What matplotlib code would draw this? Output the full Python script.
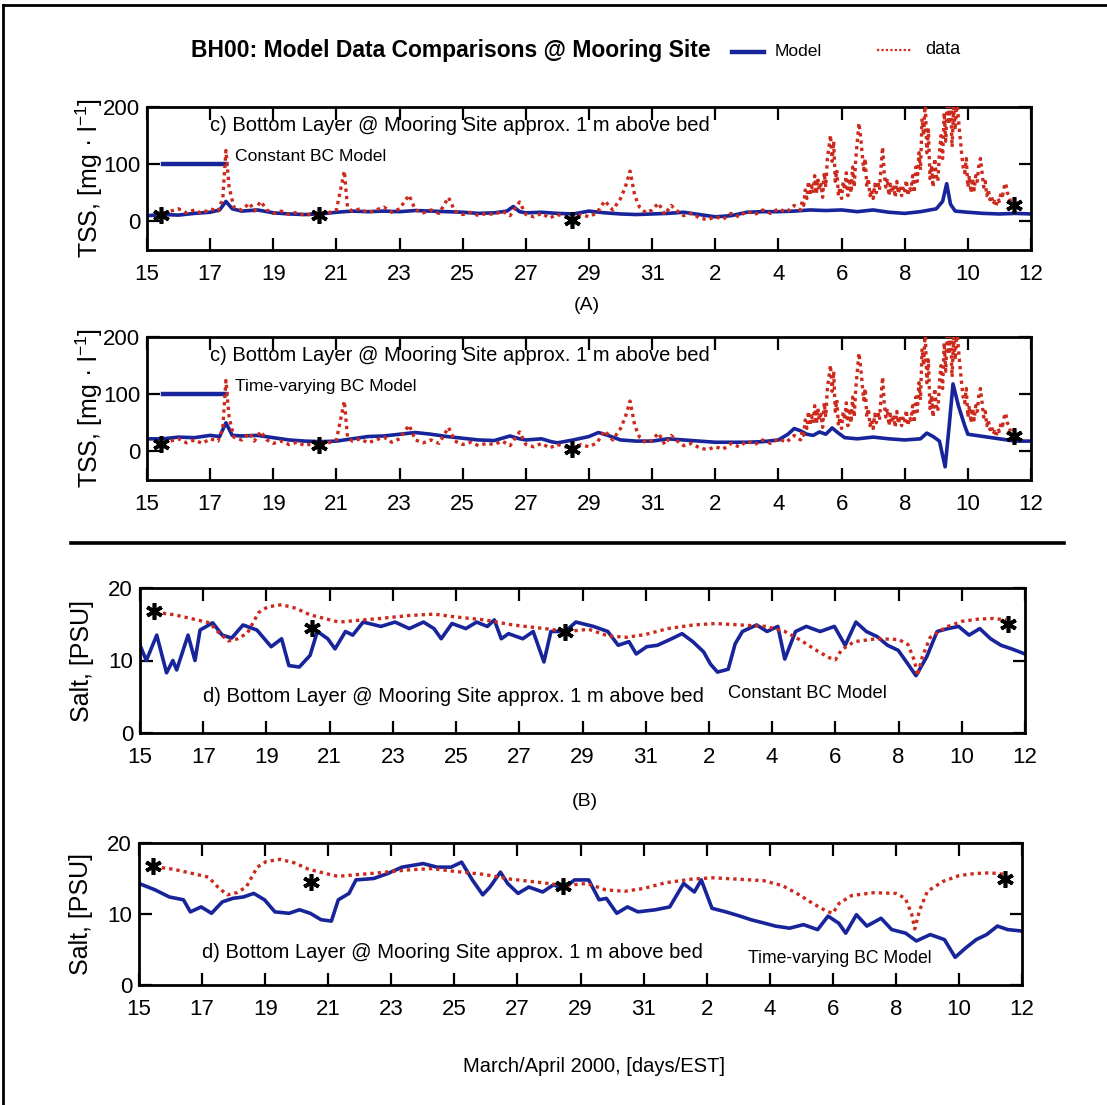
"""Bottom-layer TSS and salinity, model vs. mooring data at BH00."""

import numpy as np
import matplotlib
matplotlib.use("Agg")
import matplotlib.pyplot as plt
from matplotlib.lines import Line2D

# ---------------------------------------------------------------- data
# time is day of March; April days continue as 31 + day
tick_days = [15, 17, 19, 21, 23, 25, 27, 29, 31, 33, 35, 37, 39, 41, 43]
tick_labels = ["15", "17", "19", "21", "23", "25", "27", "29", "31",
               "2", "4", "6", "8", "10", "12"]

# observed TSS (mg/l), same record in both TSS panels
# March to early April, read at irregular times
tss_obs_day_a = [15.3, 15.5, 15.75, 16.0, 16.25, 16.5, 16.75, 17.0, 17.25, 17.4,
                 17.5, 17.6, 17.75, 18.0, 18.25, 18.4, 18.6, 18.8, 19.0, 19.25,
                 19.5, 19.75, 20.0, 20.25, 20.5, 20.75, 21.0, 21.25, 21.35, 21.5,
                 21.75, 22.0, 22.25, 22.5, 22.75, 23.0, 23.3, 23.5, 23.75, 24.0,
                 24.25, 24.55, 24.75, 25.0, 25.25, 25.5, 25.75, 26.0, 26.25, 26.5,
                 26.8, 27.0, 27.25, 27.5, 27.75, 28.0, 28.25, 28.5, 28.75, 29.0,
                 29.25, 29.5, 29.75, 30.0, 30.15, 30.3, 30.45, 30.6, 30.8, 31.0,
                 31.2, 31.4, 31.6, 31.8, 32.0, 32.25, 32.5, 32.75, 33.0, 33.25,
                 33.5, 33.75, 34.0, 34.25, 34.5, 34.75, 35.0, 35.25, 35.5]
tss_obs_a = [12, 14, 18, 22, 15, 20, 14, 22, 18, 40,
             124, 60, 25, 20, 32, 18, 35, 20, 14, 18,
             12, 16, 10, 14, 10, 15, 20, 88, 25, 18,
             22, 15, 20, 25, 16, 22, 46, 20, 15, 20,
             14, 42, 18, 12, 16, 10, 14, 12, 18, 10,
             34, 12, 8, 14, 6, 12, 8, 5, 12, 8,
             15, 36, 20, 40, 60, 88, 45, 25, 15, 20,
             32, 12, 28, 18, 10, 14, 6, 3, 8, 4,
             14, 8, 18, 12, 20, 14, 22, 16, 28]
# April 4.7 onward, sampled every 0.05 day
tss_obs_day_b = np.round(np.arange(35.70, 42.46, 0.05), 2)
tss_obs_b = [20, 35, 28, 55, 40, 70, 45, 62, 50, 80,
             48, 75, 55, 65, 42, 85, 60, 110, 130, 151,
             105, 140, 70, 90, 45, 60, 40, 70, 55, 85,
             45, 75, 50, 95, 60, 110, 140, 172, 150, 120,
             90, 110, 60, 75, 45, 55, 40, 65, 50, 70,
             55, 95, 130, 85, 60, 75, 45, 65, 50, 60,
             42, 70, 48, 62, 45, 58, 50, 72, 45, 60,
             55, 80, 50, 95, 70, 120, 90, 180, 150, 215,
             120, 160, 75, 98, 60, 110, 80, 70, 120, 150,
             110, 190, 140, 215, 170, 215, 130, 200, 160, 215,
             180, 150, 120, 95, 85, 110, 60, 80, 50, 75,
             55, 80, 70, 100, 110, 85, 60, 70, 45, 55,
             38, 45, 30, 35, 28, 40, 35, 50, 45, 60,
             67, 50, 45, 35, 30, 28]
tss_obs_day = list(tss_obs_day_a) + list(tss_obs_day_b)
tss_obs = tss_obs_a + tss_obs_b

# constant-BC model TSS
tss_const_day = [15.0, 15.5, 16.0, 16.5, 17.0, 17.3, 17.5, 17.7, 18.0, 18.5,
                 19.0, 19.5, 20.0, 20.5, 21.0, 21.5, 22.0, 22.5, 23.0, 23.5,
                 24.0, 24.5, 25.0, 25.5, 26.0, 26.4, 26.6, 26.8, 27.0, 27.5,
                 28.0, 28.5, 29.0, 29.5, 30.0, 30.5, 31.0, 31.5, 32.0, 32.5,
                 33.0, 33.5, 34.0, 34.5, 35.0, 35.5, 36.0, 36.5, 37.0, 37.5,
                 38.0, 38.5, 39.0, 39.5, 40.0, 40.2, 40.33, 40.45, 40.6, 41.0,
                 41.5, 42.0, 42.5, 43.0]
tss_const = [10, 12, 11, 14, 16, 20, 35, 22, 18, 20,
             15, 13, 12, 13, 16, 18, 17, 18, 17, 19,
             18, 17, 16, 14, 15, 18, 26, 17, 15, 16,
             14, 13, 18, 15, 13, 12, 13, 14, 16, 12,
             8, 10, 16, 17, 17, 18, 20, 19, 20, 17,
             20, 16, 14, 17, 22, 35, 66, 30, 18, 16,
             14, 13, 14, 13]

# time-varying-BC model TSS
tss_tvar_day = [15.0, 15.5, 16.0, 16.5, 17.0, 17.3, 17.5, 17.7, 18.0, 18.5,
                19.0, 19.5, 20.0, 20.5, 21.0, 21.5, 22.0, 22.5, 23.0, 23.5,
                24.0, 24.5, 25.0, 25.5, 26.0, 26.5, 26.8, 27.0, 27.5, 27.8,
                28.0, 28.5, 29.0, 29.3, 29.6, 30.0, 30.5, 31.0, 31.5, 32.0,
                32.5, 33.0, 33.5, 34.0, 34.5, 35.0, 35.3, 35.5, 35.7, 35.9,
                36.1, 36.3, 36.5, 36.7, 36.9, 37.1, 37.5, 38.0, 38.5, 39.0,
                39.5, 39.7, 39.9, 40.1, 40.28, 40.4, 40.53, 40.7, 40.9, 41.0,
                41.5, 42.0, 42.5, 43.0]
tss_tvar = [22, 22, 25, 24, 28, 26, 50, 28, 27, 28,
            24, 20, 18, 17, 18, 22, 26, 27, 30, 33,
            30, 26, 23, 20, 19, 27, 22, 20, 22, 17,
            15, 20, 26, 33, 28, 20, 18, 18, 22, 20,
            18, 16, 16, 16, 17, 20, 30, 40, 36, 30,
            28, 34, 30, 41, 32, 24, 22, 25, 22, 20,
            22, 32, 26, 18, -27, 40, 118, 80, 45, 30,
            26, 22, 18, 18]

# discrete samples (asterisks)
cast_day = [15.45, 20.45, 28.45, 42.45]
tss_cast_const = [12, 12, 3, 29]
tss_cast_tvar = [13, 12, 4, 27]
salt_cast = [16.8, 14.5, 14.0, 15.0]

# observed salinity (PSU), same record in both salt panels
salt_obs_day = [15.5, 15.76, 16.1, 16.5, 16.8, 17.2, 17.5, 17.8, 18.1, 18.4,
                18.75, 19.04, 19.48, 19.93, 20.38, 20.83, 21.3, 21.8, 22.6, 23.5,
                24.3, 25.0, 25.9, 26.8, 27.8, 28.5, 29.2, 29.8, 30.4, 31.0,
                31.7, 32.5, 33.2, 34.0, 34.8, 35.4, 35.9, 36.4, 36.8, 37.0,
                37.2, 37.6, 38.3, 39.0, 39.3, 39.5, 39.6, 39.75, 40.0, 40.5,
                41.0, 41.5, 42.0, 42.4]
salt_obs = [16.8, 16.5, 16.3, 15.9, 15.6, 15.2, 13.8, 12.7, 13.0, 13.8,
            16.6, 17.4, 17.7, 17.2, 16.3, 15.8, 15.3, 15.5, 15.8, 16.2,
            16.4, 16.0, 15.6, 14.9, 14.4, 14.0, 14.3, 13.4, 13.2, 13.6,
            14.4, 14.9, 15.1, 14.9, 14.7, 14.0, 12.8, 11.4, 10.4, 10.1,
            11.5, 12.6, 13.0, 12.9, 12.2, 10.0, 7.9, 10.5, 13.2, 14.6,
            15.4, 15.7, 15.8, 15.6]

# constant-BC model salinity
salt_const_day = [15.0, 15.2, 15.53, 15.84, 16.04, 16.16, 16.52, 16.74, 16.9, 17.3,
                  17.6, 17.9, 18.26, 18.7, 19.15, 19.48, 19.71, 20.04, 20.38, 20.61,
                  20.94, 21.17, 21.5, 21.73, 22.06, 22.62, 23.07, 23.52, 23.97, 24.3,
                  24.53, 24.87, 25.31, 25.65, 25.99, 26.21, 26.43, 26.66, 27.11, 27.44,
                  27.78, 28.0, 28.45, 28.79, 29.35, 29.8, 30.13, 30.47, 30.7, 31.03,
                  31.37, 31.82, 32.15, 32.49, 32.83, 33.05, 33.27, 33.61, 33.83, 34.06,
                  34.51, 34.84, 35.18, 35.4, 35.74, 36.08, 36.52, 36.97, 37.31, 37.65,
                  37.98, 38.32, 38.65, 38.99, 39.33, 39.55, 39.89, 40.22, 40.56, 40.9,
                  41.23, 41.57, 41.91, 42.24, 42.58, 43.0]
salt_const = [12.1, 10.0, 13.5, 8.3, 10.0, 8.7, 13.5, 10.0, 14.2, 15.2,
              13.5, 13.1, 14.9, 14.2, 11.9, 13.0, 9.3, 9.1, 10.7, 14.0,
              13.0, 11.6, 14.0, 13.5, 15.3, 14.7, 15.3, 14.4, 15.3, 14.4,
              13.0, 15.1, 14.4, 15.3, 14.7, 15.6, 13.0, 13.7, 13.0, 14.0,
              9.8, 14.0, 14.0, 15.3, 14.7, 14.0, 12.1, 12.6, 10.9, 11.9,
              12.1, 13.0, 13.7, 12.6, 11.2, 9.5, 8.4, 8.8, 12.3, 14.0,
              14.9, 14.0, 14.7, 10.2, 14.0, 14.7, 14.0, 14.7, 12.1, 15.3,
              14.0, 13.3, 12.1, 11.4, 9.3, 7.9, 10.5, 14.0, 14.4, 14.7,
              13.5, 14.4, 13.0, 12.1, 11.6, 10.9]

# time-varying-BC model salinity
salt_tvar_day = [15.0, 15.51, 15.96, 16.41, 16.63, 16.97, 17.3, 17.64, 17.97, 18.31,
                 18.64, 18.98, 19.31, 19.76, 20.09, 20.43, 20.77, 21.1, 21.32, 21.66,
                 21.88, 22.44, 22.89, 23.34, 24.01, 24.45, 24.9, 25.23, 25.57, 25.9,
                 26.13, 26.46, 26.69, 27.02, 27.36, 27.8, 28.14, 28.47, 28.81, 29.26,
                 29.59, 29.82, 30.15, 30.49, 30.82, 31.38, 31.83, 32.27, 32.61, 32.83,
                 33.17, 33.61, 34.06, 34.4, 34.84, 35.18, 35.63, 36.07, 36.52, 36.85,
                 37.19, 37.41, 37.75, 38.08, 38.53, 38.87, 39.31, 39.65, 40.09, 40.54,
                 40.88, 41.21, 41.55, 41.88, 42.22, 42.55, 43.0]
salt_tvar = [14.3, 13.4, 12.4, 12.0, 10.3, 11.0, 10.1, 11.7, 12.2, 12.4,
             12.9, 12.0, 10.3, 10.1, 10.6, 10.1, 9.2, 9.0, 12.0, 12.9,
             14.8, 15.0, 15.7, 16.6, 17.1, 16.6, 16.6, 17.3, 14.8, 12.7,
             13.8, 15.9, 14.3, 12.9, 13.8, 13.1, 14.1, 13.6, 14.8, 14.8,
             12.0, 12.2, 10.1, 11.0, 10.3, 10.6, 11.0, 14.3, 13.1, 14.8,
             10.8, 10.3, 9.7, 9.2, 8.7, 8.3, 8.0, 8.5, 7.8, 9.7,
             8.7, 7.3, 9.9, 8.3, 9.4, 7.8, 7.3, 6.2, 7.1, 6.4,
             3.9, 5.2, 6.4, 7.1, 8.3, 7.8, 7.6]

# ---------------------------------------------------------------- style
BLUE = "#18249a"
RED = "#cc2a1c"
W, H = 1107, 1105

plt.rcParams["font.family"] = ["Liberation Sans", "DejaVu Sans"]
plt.rcParams["mathtext.default"] = "regular"


def px_axes(fig, left, top, right, bottom):
    """Add axes given a pixel box (origin top-left)."""
    return fig.add_axes([left / W, 1 - bottom / H,
                         (right - left) / W, (bottom - top) / H])


def draw_panel(ax, obs_day, obs, mod_day, mod, cast, ylim, yticks, ylabel,
               label_x):
    ax.plot(mod_day, mod, color=BLUE, lw=2.6, zorder=2)
    ax.plot(obs_day, obs, color=RED, lw=2.4, ls=(0, (1.0, 1.2)), zorder=3)
    ax.plot(cast_day, cast, ls="none", marker=(6, 2, 0), ms=12, mew=2.6,
            color="black", zorder=4)
    ax.set_xlim(15, 43)
    ax.set_ylim(*ylim)
    ax.set_xticks(tick_days)
    ax.set_xticklabels(tick_labels)
    ax.set_yticks(yticks)
    ax.tick_params(direction="in", top=True, right=True, length=9, width=1.6,
                   labelsize=16)
    ax.tick_params(axis="x", pad=10)
    ax.tick_params(axis="y", pad=5)
    for sp in ax.spines.values():
        sp.set_linewidth(2.0)
    ax.set_ylabel(ylabel, fontsize=18)
    ax.yaxis.label.set_va("center")
    ax.yaxis.set_label_coords(label_x, 0.5)


fig = plt.figure(figsize=(W / 100, H / 100), dpi=100)

tss_label = "TSS, [mg · l$^{-1}$]"
salt_label = "Salt, [PSU]"
layer_c = "c) Bottom Layer @ Mooring Site approx. 1 m above bed"
layer_d = "d) Bottom Layer @ Mooring Site approx. 1 m above bed"

# TSS, constant BC
ax1 = px_axes(fig, 147, 107, 1031, 250)
draw_panel(ax1, tss_obs_day, tss_obs, tss_const_day, tss_const, tss_cast_const,
           (-50, 200), [0, 100, 200], tss_label, -0.065)
ax1.text(17.0, 167, layer_c, fontsize=14.5, va="center")
ax1.plot([15.5, 17.5], [100, 100], color=BLUE, lw=3.2)
ax1.text(17.8, 114, "Constant BC Model", fontsize=12.6, va="center")

fig.text(587 / W, 1 - 305 / H, "(A)", fontsize=14, ha="center", va="center")

# TSS, time-varying BC
ax2 = px_axes(fig, 147, 337, 1031, 480)
draw_panel(ax2, tss_obs_day, tss_obs, tss_tvar_day, tss_tvar, tss_cast_tvar,
           (-50, 200), [0, 100, 200], tss_label, -0.065)
ax2.text(17.0, 168, layer_c, fontsize=14.5, va="center")
ax2.plot([15.5, 17.5], [100, 100], color=BLUE, lw=3.2)
ax2.text(17.8, 113, "Time-varying BC Model", fontsize=12.6, va="center")

# separator between TSS and salt blocks
fig.add_artist(Line2D([71 / W, 1064 / W], [1 - 543 / H, 1 - 543 / H],
                      color="black", lw=2.6))

# salt, constant BC
ax3 = px_axes(fig, 140, 588, 1025, 733)
draw_panel(ax3, salt_obs_day, salt_obs, salt_const_day, salt_const, salt_cast,
           (0, 20), [0, 10, 20], salt_label, -0.066)
ax3.text(17.0, 5.0, layer_d, fontsize=14.5, va="center")
ax3.text(33.6, 5.5, "Constant BC Model", fontsize=13.2, va="center")

fig.text(585 / W, 1 - 802 / H, "(B)", fontsize=14, ha="center", va="center")

# salt, time-varying BC
ax4 = px_axes(fig, 139, 843, 1022, 985)
draw_panel(ax4, salt_obs_day, salt_obs, salt_tvar_day, salt_tvar, salt_cast,
           (0, 20), [0, 10, 20], salt_label, -0.066)
ax4.text(17.0, 4.6, layer_d, fontsize=14.5, va="center")
ax4.text(34.3, 3.7, "Time-varying BC Model", fontsize=12.7, va="center")
ax4.set_xlabel("March/April 2000, [days/EST]", fontsize=14.5)
ax4.xaxis.label.set_va("center")
ax4.xaxis.set_label_coords((594 - 139) / 883, -(1067 - 985) / 142)

# heading with a small key for model/data
fig.text(451 / W, 1 - 50 / H, "BH00: Model Data Comparisons @ Mooring Site",
         fontsize=16.5, fontweight="bold", ha="center", va="center")
fig.add_artist(Line2D([732 / W, 764 / W], [1 - 52 / H, 1 - 52 / H],
                      color=BLUE, lw=3.2))
fig.text(775 / W, 1 - 52 / H, "Model", fontsize=12.6, va="center")
fig.add_artist(Line2D([877 / W, 912 / W], [1 - 50 / H, 1 - 50 / H],
                      color=RED, lw=1.6, ls=(0, (1.0, 1.0))))
fig.text(925 / W, 1 - 50 / H, "data", fontsize=13, va="center")

# page frame (top and left edges)
fig.add_artist(Line2D([3 / W, 1.0], [1 - 5 / H, 1 - 5 / H], color="black", lw=2))
fig.add_artist(Line2D([3 / W, 3 / W], [0.0, 1 - 5 / H], color="black", lw=2))

fig.savefig("out.png", dpi=100)
